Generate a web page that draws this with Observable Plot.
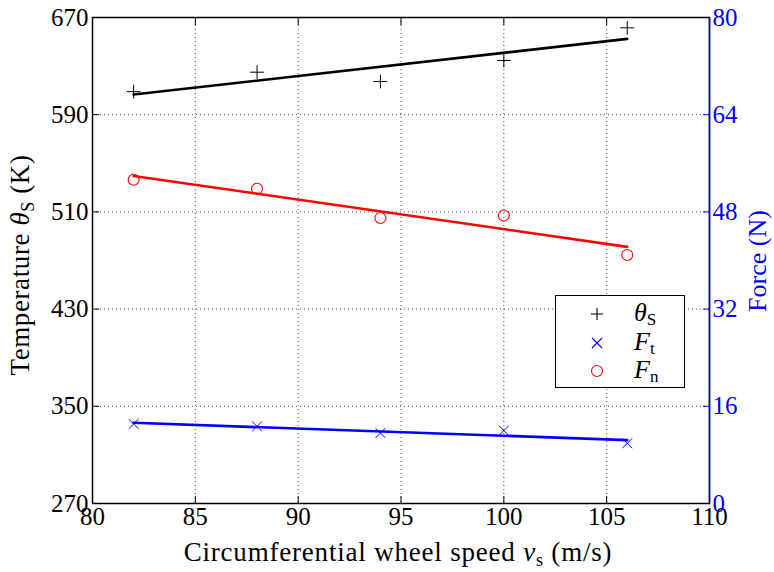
<!DOCTYPE html>
<html><head><meta charset="utf-8">
<script src="https://cdn.jsdelivr.net/npm/d3@7"></script>
<script src="https://cdn.jsdelivr.net/npm/@observablehq/plot@0.6"></script>
<style>
body{margin:0;background:#fff;}
#wrap{position:relative;width:774px;height:572px;font-family:'Liberation Serif','DejaVu Serif',serif;}
#legend{position:absolute;left:555px;top:295px;width:130px;height:93px;border:1.5px solid #000;background:#fff;box-sizing:border-box;}
.row{position:absolute;left:0;width:100%;height:28px;}
.row svg{position:absolute;left:34px;top:7px;}
.row .lab{position:absolute;left:78px;top:-2px;font-size:26px;}
.lab sub{font-size:17px;font-style:normal;vertical-align:-4px;}
</style></head>
<body><div id="wrap"><div id="legend">
<div class="row" style="top:4px"><svg width="14" height="14"><path d="M7 1V13M1 7H13" stroke="#000" stroke-width="1.1"/></svg><span class="lab"><i>θ</i><sub>S</sub></span></div>
<div class="row" style="top:33px"><svg width="14" height="14"><path d="M2 2L12 12M12 2L2 12" stroke="blue" stroke-width="1.1"/></svg><span class="lab"><i>F</i><sub>t</sub></span></div>
<div class="row" style="top:61px"><svg width="14" height="14"><circle cx="7" cy="7" r="5.5" fill="none" stroke="red" stroke-width="1.1"/></svg><span class="lab"><i>F</i><sub>n</sub></span></div>
</div></div>
<script>
const speed = [82, 88, 94, 100, 106];
const temperature = [609, 625, 617.3, 634.6, 661.5];
const forceT = [13.1, 12.7, 11.6, 12.0, 9.9];
const forceN = [53.3, 51.8, 47.0, 47.4, 40.9];
const xTicks = [80, 85, 90, 95, 100, 105, 110];
const tempTicks = [270, 350, 430, 510, 590, 670];
const forceTicks = [0, 16, 32, 48, 64, 80];

// force axis mapped onto temperature scale: 0 N -> 270 K, 80 N -> 670 K
const f2t = f => 270 + f * 5;
const tData = speed.map((x, i) => ({x, y: temperature[i]}));
const ftData = speed.map((x, i) => ({x, y: f2t(forceT[i])}));
const fnData = speed.map((x, i) => ({x, y: f2t(forceN[i])}));
const FONT = "'Liberation Serif', 'DejaVu Serif', serif";

const chart = Plot.plot({
  width: 774, height: 572,
  marginLeft: 92, marginRight: 65, marginTop: 17, marginBottom: 69,
  style: {fontFamily: FONT, fontSize: "25px", background: "#fff"},
  x: {domain: [80, 110]},
  y: {domain: [270, 670]},
  marks: [
    Plot.gridX(xTicks, {stroke: "#000", strokeOpacity: 0.7, strokeDasharray: "1,3"}),
    Plot.gridY(tempTicks, {stroke: "#000", strokeOpacity: 0.7, strokeDasharray: "1,3"}),
    Plot.axisX(xTicks, {tickSize: -7, tickPadding: 11, label: null, color: "#000", fontSize: 25}),
    Plot.axisX(xTicks, {anchor: "top", tickSize: -7, tickFormat: () => "", label: null}),
    Plot.axisY(tempTicks, {tickSize: -7, tickPadding: 11, label: null, fontSize: 25}),
    Plot.axisY(tempTicks, {anchor: "right", tickSize: -7, tickPadding: 10, label: null, color: "blue", stroke: "blue",
      tickFormat: d => String(forceTicks[tempTicks.indexOf(d)]), fontSize: 25}),
    Plot.frame({stroke: "#000", strokeWidth: 1.5}),
    Plot.ruleX([110], {stroke: "blue", strokeWidth: 1.5}),
    Plot.linearRegressionY(tData, {x: "x", y: "y", stroke: "#000", strokeWidth: 2.6, ci: 0}),
    Plot.linearRegressionY(fnData, {x: "x", y: "y", stroke: "red", strokeWidth: 2.6, ci: 0}),
    Plot.linearRegressionY(ftData, {x: "x", y: "y", stroke: "blue", strokeWidth: 2.6, ci: 0}),
    Plot.dot(tData, {x: "x", y: "y", symbol: "plus", r: 4.5, stroke: "#000", strokeWidth: 1}),
    Plot.dot(ftData, {x: "x", y: "y", symbol: "times", r: 4.5, stroke: "blue", strokeWidth: 1}),
    Plot.dot(fnData, {x: "x", y: "y", symbol: "circle", r: 5.5, stroke: "red", fill: "none", strokeWidth: 1.1})
  ]
});

const svg = d3.select(chart);
// y label left
const yl = svg.append("text").attr("transform", "translate(29,265) rotate(-90)")
  .attr("text-anchor", "middle").attr("font-size", 27).attr("letter-spacing", 0.6).attr("fill", "#000");
yl.append("tspan").text("Temperature ");
yl.append("tspan").attr("font-style", "italic").text("θ");
yl.append("tspan").attr("font-size", 18).attr("dy", 5).text("S");
yl.append("tspan").attr("dy", -5).text(" (K)");
// right label
svg.append("text").attr("transform", "translate(766,261) rotate(-90)")
  .attr("text-anchor", "middle").attr("font-size", 26).attr("fill", "blue").text("Force (N)");
// x label
const xl = svg.append("text").attr("transform", "translate(398,561)")
  .attr("text-anchor", "middle").attr("font-size", 27).attr("letter-spacing", 0.8).attr("fill", "#000");
xl.append("tspan").text("Circumferential wheel speed ");
xl.append("tspan").attr("font-style", "italic").text("v");
xl.append("tspan").attr("font-size", 18).attr("dy", 5).text("s");
xl.append("tspan").attr("dy", -5).text(" (m/s)");

svg.selectAll("text").attr("font-family", FONT).style("font-family", FONT);

document.getElementById("wrap").prepend(chart);
chart.style.position = "absolute"; chart.style.left = "0"; chart.style.top = "0";
</script></body></html>
